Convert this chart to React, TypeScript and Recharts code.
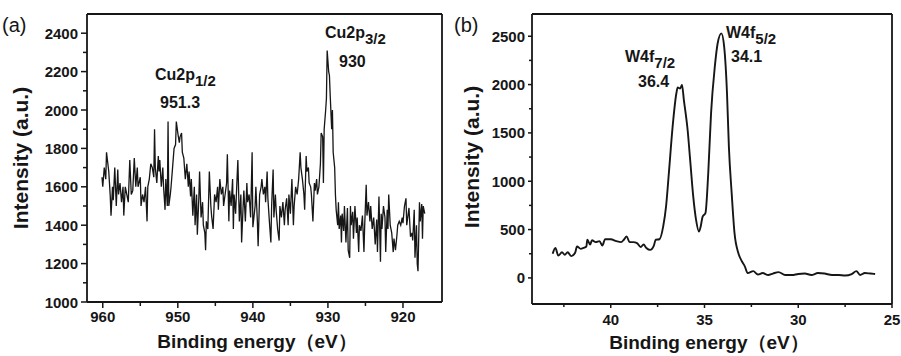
import * as React from "react";
import { LineChart, Line, XAxis, YAxis, ReferenceLine } from "recharts";

// Cu 2p spectrum, [binding energy (eV), intensity]
const cuSpectrum: [number, number][] = [
  [960.1, 1650], [960.0, 1600], [959.8, 1700], [959.6, 1640], [959.5, 1780], [959.2, 1680], [959.0, 1550], [958.9, 1450],
  [958.7, 1600], [958.6, 1530], [958.4, 1700], [958.2, 1500], [958.0, 1690], [957.9, 1560], [957.7, 1620], [957.5, 1520],
  [957.3, 1600], [957.2, 1450], [957.0, 1600], [956.8, 1560], [956.6, 1520], [956.4, 1740], [956.2, 1560], [956.0, 1580],
  [955.8, 1750], [955.6, 1600], [955.4, 1700], [955.3, 1600], [955.0, 1650], [954.9, 1500], [954.7, 1560], [954.5, 1520],
  [954.3, 1600], [954.1, 1420], [954.0, 1600], [953.8, 1640], [953.6, 1720], [953.4, 1700], [953.2, 1650], [953.1, 1900],
  [953.0, 1700], [952.8, 1620], [952.6, 1760], [952.5, 1680], [952.4, 1740], [952.2, 1600], [952.0, 1700], [951.9, 1600],
  [951.7, 1480], [951.6, 1640], [951.4, 1500], [951.3, 1940], [951.2, 1500], [951.0, 1560], [950.9, 1600], [950.7, 1700],
  [950.5, 1800], [950.3, 1820], [950.2, 1940], [950.0, 1880], [949.8, 1830], [949.7, 1860], [949.5, 1880], [949.4, 1780],
  [949.2, 1750], [949.0, 1640], [948.8, 1720], [948.6, 1600], [948.5, 1680], [948.3, 1550], [948.2, 1640], [948.0, 1450],
  [947.8, 1600], [947.7, 1400], [947.5, 1560], [947.4, 1350], [947.2, 1540], [947.1, 1680], [946.9, 1440], [946.7, 1520],
  [946.6, 1400], [946.4, 1360], [946.3, 1270], [946.2, 1420], [946.0, 1380], [945.8, 1680], [945.6, 1500], [945.5, 1450],
  [945.3, 1380], [945.1, 1560], [944.9, 1520], [944.7, 1600], [944.6, 1480], [944.4, 1640], [944.2, 1560], [944.0, 1600],
  [943.9, 1500], [943.7, 1560], [943.5, 1620], [943.4, 1770], [943.2, 1420], [943.1, 1580], [942.9, 1500], [942.7, 1640],
  [942.6, 1380], [942.5, 1560], [942.3, 1460], [942.1, 1650], [942.0, 1740], [941.8, 1420], [941.6, 1560], [941.5, 1310],
  [941.3, 1500], [941.2, 1580], [941.0, 1420], [940.8, 1620], [940.7, 1520], [940.5, 1560], [940.3, 1440], [940.1, 1780],
  [940.0, 1390], [939.7, 1500], [939.6, 1600], [939.4, 1420], [939.3, 1290], [939.1, 1560], [938.9, 1600], [938.8, 1640],
  [938.6, 1560], [938.4, 1600], [938.3, 1520], [938.1, 1680], [938.0, 1540], [937.8, 1420], [937.6, 1310], [937.5, 1500],
  [937.3, 1690], [937.2, 1440], [937.0, 1560], [936.9, 1480], [936.7, 1380], [936.5, 1320], [936.4, 1500], [936.2, 1440],
  [936.0, 1520], [935.8, 1400], [935.7, 1480], [935.5, 1540], [935.3, 1400], [935.2, 1560], [935.0, 1460], [934.8, 1640],
  [934.6, 1400], [934.5, 1500], [934.3, 1600], [934.1, 1560], [933.9, 1640], [933.7, 1780], [933.6, 1700], [933.4, 1640],
  [933.2, 1560], [933.1, 1480], [932.9, 1760], [932.8, 1680], [932.6, 1700], [932.5, 1620], [932.3, 1600], [932.2, 1560],
  [932.0, 1420], [931.8, 1620], [931.7, 1580], [931.5, 1640], [931.4, 1560], [931.2, 1600], [931.0, 1720], [930.9, 1880],
  [930.7, 1860], [930.6, 1620], [930.5, 1900], [930.3, 2000], [930.2, 2060], [930.1, 2310], [929.9, 2200], [929.8, 2180],
  [929.7, 2080], [929.5, 1900], [929.4, 2000], [929.3, 1780], [929.1, 1700], [929.0, 1560], [928.9, 1480], [928.7, 1400],
  [928.6, 1520], [928.5, 1380], [928.3, 1450], [928.2, 1310], [928.1, 1460], [927.9, 1370], [927.8, 1500], [927.6, 1310],
  [927.4, 1490], [927.3, 1270], [927.1, 1230], [927.0, 1500], [926.9, 1400], [926.7, 1470], [926.6, 1330], [926.4, 1500],
  [926.2, 1360], [926.1, 1440], [925.9, 1260], [925.8, 1400], [925.6, 1370], [925.4, 1450], [925.2, 1260], [925.1, 1400],
  [924.9, 1610], [924.8, 1450], [924.6, 1520], [924.4, 1420], [924.3, 1500], [924.1, 1380], [923.9, 1440], [923.7, 1300],
  [923.5, 1430], [923.4, 1260], [923.2, 1550], [923.0, 1210], [922.9, 1460], [922.8, 1380], [922.6, 1500], [922.4, 1440],
  [922.3, 1260], [922.1, 1480], [922.0, 1380], [921.9, 1560], [921.7, 1400], [921.5, 1360], [921.3, 1260], [921.2, 1330],
  [921.0, 1270], [920.8, 1350], [920.7, 1400], [920.5, 1420], [920.3, 1400], [920.1, 1440], [920.0, 1410], [919.8, 1500],
  [919.6, 1540], [919.5, 1400], [919.3, 1460], [919.2, 1490], [919.0, 1340], [918.8, 1360], [918.7, 1320], [918.5, 1480],
  [918.4, 1230], [918.2, 1400], [918.1, 1200], [918.0, 1160], [917.8, 1520], [917.7, 1420], [917.5, 1510], [917.4, 1330],
  [917.3, 1500], [917.1, 1460],
];

// W 4f spectrum, [binding energy (eV), intensity]
const wSpectrum: [number, number][] = [
  [43.1, 250], [42.95, 310], [42.8, 230], [42.6, 265], [42.45, 240], [42.3, 265], [42.1, 225], [41.9, 260],
  [41.8, 325], [41.6, 300], [41.45, 310], [41.3, 325], [41.25, 395], [41.1, 345], [41.0, 390], [40.8, 370],
  [40.6, 380], [40.45, 335], [40.3, 400], [40.0, 400], [39.7, 380], [39.45, 370], [39.3, 395], [39.15, 430],
  [39.0, 370], [38.8, 370], [38.6, 360], [38.4, 320], [38.25, 345], [38.1, 310], [37.9, 290], [37.7, 335],
  [37.6, 395], [37.4, 400], [37.2, 535], [37.05, 740], [36.9, 1085], [36.7, 1565], [36.5, 1910], [36.43, 1970],
  [36.3, 1960], [36.2, 1995], [36.1, 1840], [35.9, 1530], [35.75, 1185], [35.6, 840], [35.45, 600], [35.3, 480],
  [35.2, 535], [35.1, 635], [34.95, 670], [34.8, 1085], [34.65, 1705], [34.45, 2185], [34.3, 2425], [34.1, 2530],
  [33.95, 2390], [33.8, 1910], [33.7, 1360], [33.55, 875], [33.4, 465], [33.2, 260], [33.0, 170], [32.85, 120],
  [32.7, 50], [32.4, 70], [32.15, 35], [31.9, 50], [31.6, 30], [31.35, 45], [31.05, 60], [30.7, 30],
  [30.35, 30], [30.0, 40], [29.65, 45], [29.3, 30], [28.95, 50], [28.6, 45], [28.2, 30], [27.85, 30],
  [27.5, 25], [27.15, 40], [26.9, 70], [26.7, 30], [26.45, 50], [26.15, 45], [25.9, 40],
];

const cuXMajor = [960, 950, 940, 930, 920];
const cuXMinor = [955, 945, 935, 925];
const cuYMajor = [1000, 1200, 1400, 1600, 1800, 2000, 2200, 2400];
const cuYMinor = [1100, 1300, 1500, 1700, 1900, 2100, 2300];

const wXMajor = [40, 35, 30, 25];
const wXMinor = [42.5, 37.5, 32.5, 27.5];
const wYMajor = [0, 500, 1000, 1500, 2000, 2500];
const wYMinor = [250, 750, 1250, 1750, 2250];

const FONT = '"Liberation Sans", Arial, Helvetica, sans-serif';
const INK = "#161616";

const makeXTick = (majors: number[], majLen: number, minLen: number, labelDy: number) =>
  (props: any) => {
    const { x, y, payload } = props;
    const major = majors.includes(payload.value);
    return (
      <g>
        <line x1={x} y1={y} x2={x} y2={y + (major ? majLen : minLen)} stroke={INK} strokeWidth={1.5} />
        {major && (
          <text x={x} y={y + labelDy} textAnchor="middle" fontFamily={FONT} fontWeight="bold" fontSize={15} fill={INK}>
            {payload.value}
          </text>
        )}
      </g>
    );
  };

const makeYTick = (majors: number[], majLen: number, minLen: number, gap: number) =>
  (props: any) => {
    const { x, y, payload } = props;
    const major = majors.includes(payload.value);
    return (
      <g>
        <line x1={x - (major ? majLen : minLen)} y1={y} x2={x} y2={y} stroke={INK} strokeWidth={1.5} />
        {major && (
          <text x={x - gap} y={y + 5.5} textAnchor="end" fontFamily={FONT} fontWeight="bold" fontSize={15} fill={INK}>
            {payload.value}
          </text>
        )}
      </g>
    );
  };

const axisLine = { stroke: INK, strokeWidth: 1.8 };

const XTitle = ({ x, y }: { x: number; y: number }) => (
  <text x={x} y={y} fontSize={19} fontWeight="bold" textAnchor="middle">
    Binding energy（eV）
  </text>
);

export default function App() {
  const cuData = cuSpectrum.map(([e, v]) => ({ e, v }));
  const wData = wSpectrum.map(([e, v]) => ({ e, v }));

  const cuX: [number, number] = [914.8, 962.1];
  const cuY: [number, number] = [1000, 2500];
  const wX: [number, number] = [25, 44.2];
  const wY: [number, number] = [-270, 2730];

  return (
    <div style={{ position: "absolute", left: 0, top: 0, width: 901, height: 356, background: "#fff" }}>
      <div style={{ position: "absolute", left: 0, top: 0 }}>
        <LineChart width={450} height={356} data={cuData} margin={{ top: 14, right: 8, bottom: 0, left: 0 }}>
          <XAxis
            dataKey="e"
            type="number"
            reversed
            domain={cuX}
            allowDataOverflow
            ticks={[...cuXMajor, ...cuXMinor]}
            interval={0}
            height={54}
            tickSize={0}
            tickMargin={0}
            tickLine={false}
            axisLine={axisLine}
            tick={makeXTick(cuXMajor, 6, 4, 20)}
          />
          <YAxis
            type="number"
            domain={cuY}
            allowDataOverflow
            ticks={[...cuYMajor, ...cuYMinor]}
            interval={0}
            width={87}
            tickSize={0}
            tickMargin={0}
            tickLine={false}
            axisLine={axisLine}
            tick={makeYTick(cuYMajor, 6, 4, 9)}
          />
          <ReferenceLine y={cuY[1]} stroke={INK} strokeWidth={1.8} />
          <ReferenceLine x={cuX[0]} stroke={INK} strokeWidth={1.8} />
          <Line dataKey="v" type="linear" stroke={INK} strokeWidth={1.3} dot={false} isAnimationActive={false} />
        </LineChart>
      </div>

      <div style={{ position: "absolute", left: 450, top: 0 }}>
        <LineChart width={451} height={356} data={wData} margin={{ top: 14, right: 9, bottom: 0, left: 0 }}>
          <XAxis
            dataKey="e"
            type="number"
            reversed
            domain={wX}
            allowDataOverflow
            ticks={[...wXMajor, ...wXMinor]}
            interval={0}
            height={52}
            tickSize={0}
            tickMargin={0}
            tickLine={false}
            axisLine={axisLine}
            tick={makeXTick(wXMajor, 4, 3, 21)}
          />
          <YAxis
            type="number"
            domain={wY}
            allowDataOverflow
            ticks={[...wYMajor, ...wYMinor]}
            interval={0}
            width={82}
            tickSize={0}
            tickMargin={0}
            tickLine={false}
            axisLine={axisLine}
            tick={makeYTick(wYMajor, 4, 3, 7)}
          />
          <ReferenceLine y={wY[1]} stroke={INK} strokeWidth={1.8} />
          <ReferenceLine x={wX[0]} stroke={INK} strokeWidth={1.8} />
          <Line dataKey="v" type="monotone" stroke={INK} strokeWidth={1.9} dot={false} isAnimationActive={false} />
        </LineChart>
      </div>

      <svg
        width={901}
        height={356}
        style={{ position: "absolute", left: 0, top: 0, pointerEvents: "none" }}
        fontFamily={FONT}
        fill={INK}
      >
        <text x={2} y={32} fontSize={20}>(a)</text>
        <text x={454} y={32} fontSize={20}>(b)</text>

        <text x={155} y={80} fontSize={16} fontWeight="bold">
          Cu2p<tspan dy={6} fontSize={15}>1/2</tspan>
        </text>
        <text x={160} y={108} fontSize={16} fontWeight="bold">951.3</text>
        <text x={325} y={38} fontSize={16} fontWeight="bold">
          Cu2p<tspan dy={6} fontSize={15}>3/2</tspan>
        </text>
        <text x={339} y={67} fontSize={16} fontWeight="bold">930</text>

        <text x={625} y={62} fontSize={16} fontWeight="bold">
          W4f<tspan dy={6} fontSize={15}>7/2</tspan>
        </text>
        <text x={638} y={87} fontSize={16} fontWeight="bold">36.4</text>
        <text x={726} y={38} fontSize={16} fontWeight="bold">
          W4f<tspan dy={6} fontSize={15}>5/2</tspan>
        </text>
        <text x={731} y={62} fontSize={16} fontWeight="bold">34.1</text>

        <text x={28} y={158} fontSize={21} fontWeight="bold" textAnchor="middle" transform="rotate(-90 28 158)">
          Intensity (a.u.)
        </text>
        <text x={479} y={157} fontSize={21} fontWeight="bold" textAnchor="middle" transform="rotate(-90 479 157)">
          Intensity (a.u.)
        </text>
        <XTitle x={257} y={348} />
        <XTitle x={709} y={349} />
      </svg>
    </div>
  );
}
